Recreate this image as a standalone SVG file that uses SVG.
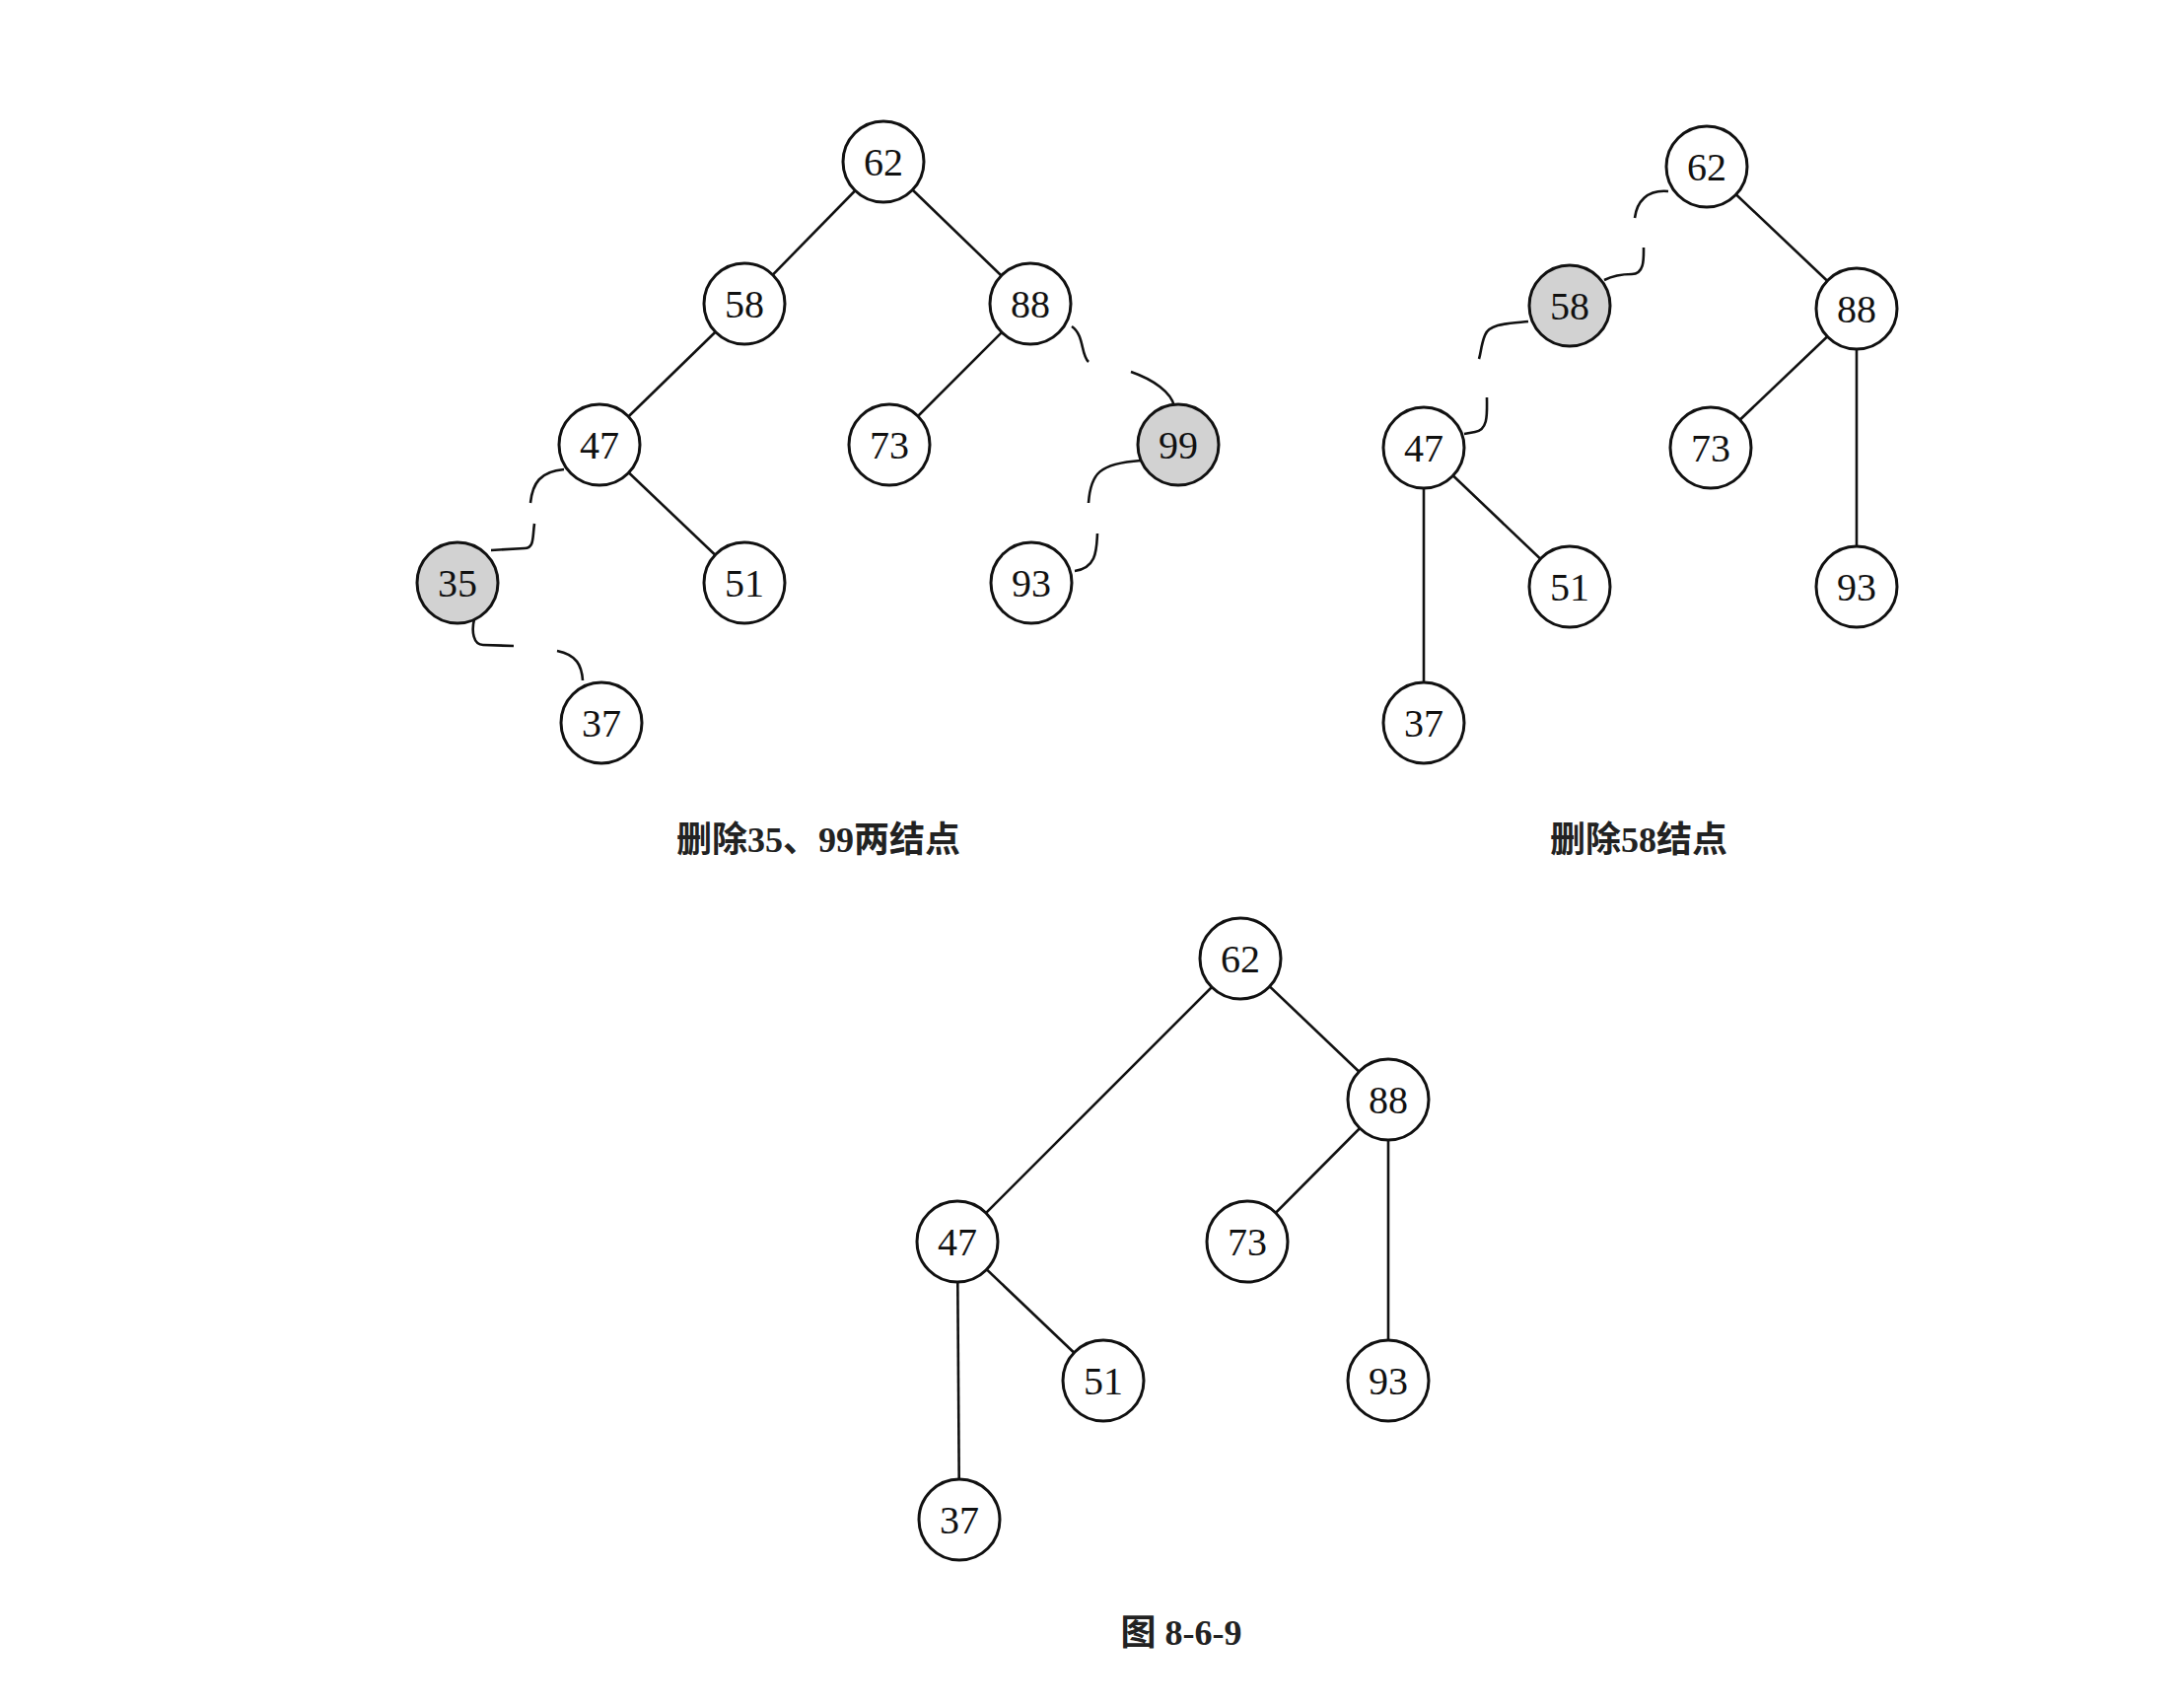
<svg xmlns="http://www.w3.org/2000/svg" width="2212" height="1732" viewBox="0 0 2212 1732">
<style>
.n circle{fill:#fff;stroke:#111;stroke-width:3}
.n.g circle{fill:#d2d2d2}
.n text{font-family:"Liberation Serif",serif;font-size:40px;fill:#111;text-anchor:middle;dominant-baseline:central}
.e line,.e path{stroke:#111;stroke-width:2.6;fill:none}
.cap{font-family:"Liberation Serif","Noto Sans CJK SC",serif;font-size:36px;font-weight:bold;fill:#222;text-anchor:middle}
</style>
<rect width="2212" height="1732" fill="#fff"/>
<g id="connectors" class="e">
<!-- panel 1 -->
<line x1="896" y1="164" x2="755" y2="308"/>
<line x1="896" y1="164" x2="1045" y2="308"/>
<line x1="755" y1="308" x2="608" y2="451"/>
<line x1="1045" y1="308" x2="902" y2="451"/>
<line x1="608" y1="451" x2="755" y2="591"/>
<path d="M572,476 C548,478 540,490 538,510"/>
<path d="M542,531 C540,545 542,556 532,556 L498,558"/>
<path d="M481,628 C478,640 480,654 490,654 L521,655"/>
<path d="M565,660 C585,664 590,675 591,690"/>
<path d="M1087,331 C1100,340 1096,360 1104,367"/>
<path d="M1147,377 C1170,385 1188,398 1191,412"/>
<path d="M1157,467 C1115,470 1106,480 1104,510"/>
<path d="M1113,541 C1112,556 1113,576 1090,579"/>
<!-- panel 2 -->
<line x1="1731" y1="169" x2="1883" y2="313"/>
<line x1="1883" y1="313" x2="1735" y2="454"/>
<line x1="1883" y1="313" x2="1883" y2="595"/>
<line x1="1444" y1="454" x2="1592" y2="595"/>
<line x1="1444" y1="454" x2="1444" y2="733"/>
<path d="M1692,194 C1670,192 1660,205 1658,221"/>
<path d="M1667,251 C1667,262 1668,278 1655,278 C1645,278 1635,280 1627,284"/>
<path d="M1550,326 C1530,328 1510,328 1506,340 C1502,350 1502,358 1500,364"/>
<path d="M1508,403 C1508,418 1510,436 1496,438 L1485,440"/>
<!-- panel 3 -->
<line x1="1258" y1="972" x2="1408" y2="1115"/>
<line x1="1258" y1="972" x2="971" y2="1259"/>
<line x1="1408" y1="1115" x2="1265" y2="1259"/>
<line x1="1408" y1="1115" x2="1408" y2="1400"/>
<line x1="971" y1="1259" x2="1119" y2="1400"/>
<line x1="971" y1="1259" x2="973" y2="1541"/>
</g>
<g id="p1-62" class="n"><circle cx="896" cy="164" r="41"/><text x="896" y="164">62</text></g>
<g id="p1-58" class="n"><circle cx="755" cy="308" r="41"/><text x="755" y="308">58</text></g>
<g id="p1-88" class="n"><circle cx="1045" cy="308" r="41"/><text x="1045" y="308">88</text></g>
<g id="p1-47" class="n"><circle cx="608" cy="451" r="41"/><text x="608" y="451">47</text></g>
<g id="p1-73" class="n"><circle cx="902" cy="451" r="41"/><text x="902" y="451">73</text></g>
<g id="p1-99" class="n g"><circle cx="1195" cy="451" r="41"/><text x="1195" y="451">99</text></g>
<g id="p1-35" class="n g"><circle cx="464" cy="591" r="41"/><text x="464" y="591">35</text></g>
<g id="p1-51" class="n"><circle cx="755" cy="591" r="41"/><text x="755" y="591">51</text></g>
<g id="p1-93" class="n"><circle cx="1046" cy="591" r="41"/><text x="1046" y="591">93</text></g>
<g id="p1-37" class="n"><circle cx="610" cy="733" r="41"/><text x="610" y="733">37</text></g>
<text class="cap" x="830" y="864">删除35、99两结点</text>

<g id="p2-62" class="n"><circle cx="1731" cy="169" r="41"/><text x="1731" y="169">62</text></g>
<g id="p2-58" class="n g"><circle cx="1592" cy="310" r="41"/><text x="1592" y="310">58</text></g>
<g id="p2-88" class="n"><circle cx="1883" cy="313" r="41"/><text x="1883" y="313">88</text></g>
<g id="p2-47" class="n"><circle cx="1444" cy="454" r="41"/><text x="1444" y="454">47</text></g>
<g id="p2-73" class="n"><circle cx="1735" cy="454" r="41"/><text x="1735" y="454">73</text></g>
<g id="p2-51" class="n"><circle cx="1592" cy="595" r="41"/><text x="1592" y="595">51</text></g>
<g id="p2-93" class="n"><circle cx="1883" cy="595" r="41"/><text x="1883" y="595">93</text></g>
<g id="p2-37" class="n"><circle cx="1444" cy="733" r="41"/><text x="1444" y="733">37</text></g>
<text class="cap" x="1662" y="864">删除58结点</text>

<g id="p3-62" class="n"><circle cx="1258" cy="972" r="41"/><text x="1258" y="972">62</text></g>
<g id="p3-88" class="n"><circle cx="1408" cy="1115" r="41"/><text x="1408" y="1115">88</text></g>
<g id="p3-47" class="n"><circle cx="971" cy="1259" r="41"/><text x="971" y="1259">47</text></g>
<g id="p3-73" class="n"><circle cx="1265" cy="1259" r="41"/><text x="1265" y="1259">73</text></g>
<g id="p3-51" class="n"><circle cx="1119" cy="1400" r="41"/><text x="1119" y="1400">51</text></g>
<g id="p3-93" class="n"><circle cx="1408" cy="1400" r="41"/><text x="1408" y="1400">93</text></g>
<g id="p3-37" class="n"><circle cx="973" cy="1541" r="41"/><text x="973" y="1541">37</text></g>
<text class="cap" x="1198" y="1668">图 8-6-9</text>
</svg>
